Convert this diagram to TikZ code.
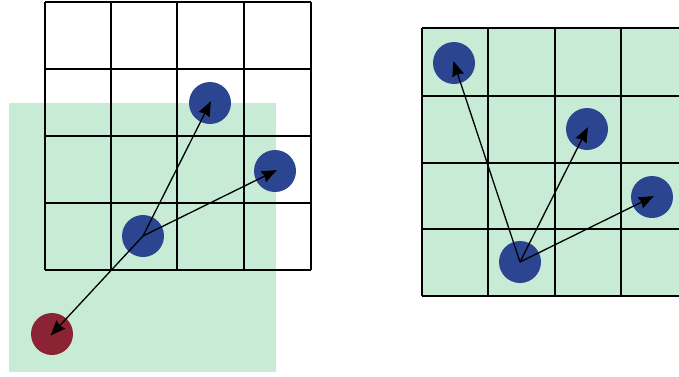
\documentclass[tikz,border=0pt]{standalone}
\usetikzlibrary{arrows.meta}
\definecolor{mint}{HTML}{C8EBD5}
\definecolor{navy}{HTML}{2B4590}
\definecolor{wine}{HTML}{8B2335}
\begin{document}
\begin{tikzpicture}[x=1pt,y=-1pt,
  gridline/.style={line width=2pt,black},
  dot/.style={circle,inner sep=0pt,minimum size=42pt,fill=navy},
  reddot/.style={circle,inner sep=0pt,minimum size=42pt,fill=wine},
  vec/.style={line width=1.3pt,-{Stealth[length=15pt,width=12pt,inset=1.5pt]},shorten >=-2pt}]
\useasboundingbox (0,0) rectangle (679,376);
\clip (0,0) rectangle (679,376);
% left panel
\fill[mint] (9,103) rectangle (276,372);
\foreach \x in {45,111,177,244,311} \draw[gridline] (\x,2) -- (\x,270);
\foreach \y in {2,69,136,203,270} \draw[gridline] (45,\y) -- (311,\y);
\node[dot] (a1) at (210,103) {};
\node[dot] (a2) at (275,171) {};
\node[dot] (a0) at (143,236) {};
\node[reddot] (ar) at (52,334) {};
\draw[vec] (a0.center) -- (a1.center);
\draw[vec] (a0.center) -- (a2.center);
\draw[vec] (a0.center) -- (ar.center);
% right panel
\fill[mint] (422,28) rectangle (700,296);
\foreach \x in {422,488,555,621,688} \draw[gridline] (\x,28) -- (\x,296);
\foreach \y in {28,96,163,229,296} \draw[gridline] (422,\y) -- (700,\y);
\node[dot] (b1) at (454,63) {};
\node[dot] (b2) at (587,129) {};
\node[dot] (b3) at (652,197) {};
\node[dot] (b0) at (520,262) {};
\draw[vec] (b0.center) -- (b1.center);
\draw[vec] (b0.center) -- (b2.center);
\draw[vec] (b0.center) -- (b3.center);
\end{tikzpicture}
\end{document}
